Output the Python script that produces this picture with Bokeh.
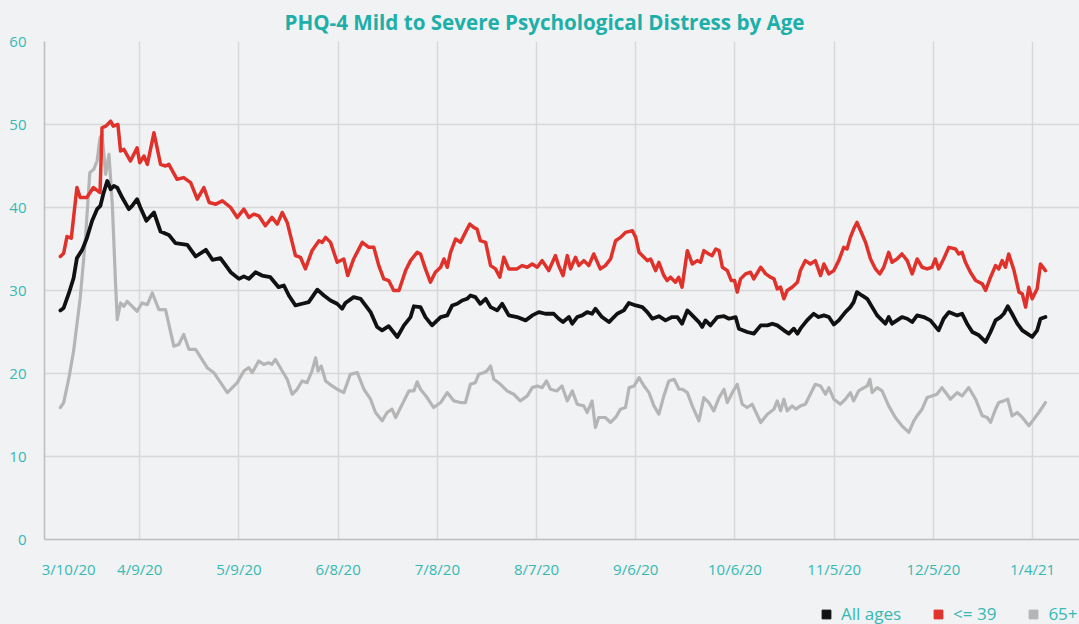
from bokeh.plotting import figure
from bokeh.layouts import column
from bokeh.models import (ColumnDataSource, FixedTicker, Range1d, Legend, LegendItem)
from bokeh.embed import file_html
from bokeh.resources import INLINE

# ---------------- data (day offsets from 3/10/20, percent) ----------------
all_days = [6, 7, 8.6, 10, 11, 12.6, 14, 15.6, 17.1, 18.1, 19.1, 20.2, 21.2, 22.2, 23.2, 24.7, 26.7, 27.7,
            29.2, 30.2, 32, 34.3, 36.3, 38.8, 40.8, 44.4, 46.9, 50, 52, 54.4,
            57.5, 60, 61.5, 63, 65, 67, 69.5, 72, 73.6, 75.1, 77.1, 79.1, 81.1, 83.7, 85.7, 87.7, 89.7,
            91.2, 92.2, 94.7, 96.8, 99.8, 101.8, 103.3, 105.3, 107.9, 109.9, 111.9, 112.9,
            114.9, 116.4, 118.4, 121, 123, 124.5, 126, 127.5, 129, 130, 131.5, 133, 134.6, 136.1, 138.1,
            139.6, 141.6, 144.1, 146.7, 148.7, 150.7, 152.7, 155.2, 156.7, 158, 159.8, 160.8, 162.3,
            163.8, 165.3, 166.8, 167.8, 169.8, 171.9,
            174.4, 176.4, 177.9, 180, 182, 183.5, 185, 187, 189, 191, 192.6, 194, 195.6, 197.1, 199.1,
            200.1, 201.1, 202.6, 204.7, 206.7, 208.2, 210.2, 211.2, 213.7, 215.7, 217.8, 219.8, 221.3,
            222.8, 224.8, 226.3, 227.8, 228.9,
            229.8, 231.8, 233.8, 235.3, 236.9, 238.4, 239.9, 241.4, 243.4, 244.9, 245.9, 246.9, 248.4,
            250, 251.5, 253, 254.5, 255.5, 256.5, 257.5, 259, 260.5, 262.1, 263.6, 265.1, 267.1, 269.1,
            271.6, 273.1, 274.7,
            277.2, 278.7, 280.2, 281.8, 283.8, 285.8, 287.3, 288.8, 290.3, 291.3, 292.5, 293.8, 295.4,
            296.9, 298.4, 299.9, 301.4, 302.4, 303.9]
all_vals = [27.6, 27.9, 29.7, 31.5, 33.9, 34.9, 36.3, 38.4, 39.8, 40.2, 41.8, 43.2, 42.2, 42.6, 42.4, 41.2, 39.8, 40.2,
            41.0, 40.0, 38.4, 39.4, 37.1, 36.7, 35.7, 35.5, 34.1, 34.9, 33.7, 33.9,
            32.2, 31.4, 31.7, 31.4, 32.2, 31.8, 31.6, 30.4, 30.6, 29.4, 28.2, 28.4, 28.6, 30.1, 29.4, 28.8, 28.4,
            27.8, 28.5, 29.2, 29.0, 27.4, 25.6, 25.2, 25.7, 24.4, 25.8, 26.8, 28.1,
            28.0, 26.8, 25.8, 26.8, 27.0, 28.2, 28.4, 28.8, 29.0, 29.4, 29.2, 28.4, 29.0, 28.0, 27.6,
            28.4, 27.0, 26.8, 26.4, 27.0, 27.4, 27.2, 27.2, 26.6, 26.2, 26.8, 26.0, 26.8,
            27.0, 27.4, 27.2, 27.8, 26.8, 26.2,
            27.2, 27.6, 28.5, 28.2, 28.0, 27.4, 26.6, 26.9, 26.4, 26.8, 26.8, 26.0, 27.6, 27.0, 26.2,
            25.6, 26.4, 25.8, 26.8, 26.9, 26.6, 26.8, 25.4, 25.0, 24.8, 25.8, 25.8, 26.0,
            25.8, 25.2, 24.8, 25.4, 24.8,
            25.4, 26.4, 27.2, 26.8, 27.0, 26.8, 25.9, 26.4, 27.4, 28.0, 28.6, 29.8, 29.4,
            29.0, 28.0, 27.0, 26.4, 26.0, 26.8, 26.0, 26.4, 26.8, 26.6, 26.2, 27.0, 26.8, 26.4,
            25.2, 26.6, 27.4,
            27.0, 27.2, 26.0, 25.0, 24.6, 23.8, 25.0, 26.4, 26.8, 27.2, 28.1, 27.2, 26.0,
            25.2, 24.8, 24.4, 25.2, 26.6, 26.8]

young_days = [6, 7, 8, 9.3, 11, 12, 14, 16, 18, 18.6, 19.7, 21.2, 22, 23.4, 24.2, 25.2, 27.2, 29.2, 30,
              31.3, 32.3, 34.3, 36.3, 37.8, 38.8, 41.3, 43.3, 45.4, 47.4, 49.4, 51, 53, 55,
              57.5, 59.5, 61.5, 63, 64.5, 66, 68, 70, 71.6, 73.1, 74.6, 77.1, 78.6, 80.1, 82.1, 84.2,
              85.2, 86.2, 87.7, 89.7, 91.7, 92.9, 94.7, 97.3, 99.3, 100.8, 102.3, 103.8, 105.3, 106.8,
              108.4, 110.4, 111.9, 113.9,
              114.9, 116.4, 117.9, 119.4, 121, 122, 123, 124, 125.5, 127, 128.5, 129.8, 131, 132, 133,
              134.6, 136.1, 137.6, 138.9, 140.1, 141.6, 144.1, 145.6, 147.2, 148.7, 150.2, 151.7, 153.7,
              155.7, 156.7, 158, 159.3, 160.3, 161.8, 162.8, 164.3, 165.8, 167.3, 169.3, 170.8,
              172.4, 173.9, 175.4, 176.9, 179, 180, 181, 182.5, 183.5, 184.5, 186, 187, 188.5, 189.5,
              190.5, 192, 193, 194, 195.6, 197.1, 198.6, 199.6, 200.6, 202.1, 203.1, 204.2, 205.2, 206.2,
              207.7, 208.9, 209.9, 210.7, 211.7, 213.2, 214.7, 215.7, 217.8, 219.3, 220.8, 221.8, 222.8,
              223.8, 224.8, 225.8, 227.3, 228.9,
              229.8, 231.3, 232.8, 234.3, 235.9, 236.9, 238.4, 239.9, 241.4, 242.9, 243.9, 244.9, 245.9,
              246.9, 248, 249.5, 251, 252.5, 253.8, 255, 256.5, 257.5, 259, 260.5, 262.1, 263.6, 265.1,
              266.6, 268.1, 269.6, 270.6, 271.6, 273.1, 274.7,
              276.7, 277.7, 278.7, 279.7, 281.2, 282.8, 284.8, 285.8, 287.3, 288.8, 289.8, 290.8, 291.8,
              292.8, 294.4, 295.9, 296.9, 297.9, 298.9, 299.9, 301.4, 302.4, 303.9]
young_vals = [34.1, 34.5, 36.5, 36.3, 42.4, 41.2, 41.2, 42.4, 41.8, 49.6, 49.8, 50.4, 49.8, 50.0, 46.8, 47.0, 45.6, 47.2, 45.4,
              46.2, 45.2, 49.0, 45.2, 45.0, 45.2, 43.4, 43.6, 43.0, 41.0, 42.4, 40.6, 40.4, 40.8,
              40.0, 38.8, 39.8, 38.8, 39.2, 39.0, 37.8, 38.8, 38.0, 39.4, 38.2, 34.2, 34.0, 32.6, 34.8, 36.0,
              35.8, 36.4, 35.8, 33.4, 33.8, 31.8, 33.8, 35.8, 35.2, 35.2, 33.0, 31.4, 31.2, 30.0,
              30.0, 32.4, 33.6, 34.6,
              34.4, 32.6, 31.0, 32.2, 32.8, 33.8, 32.8, 34.6, 36.2, 35.8, 37.0, 38.0, 37.6, 37.4, 36.0,
              35.8, 33.0, 32.6, 31.6, 34.0, 32.6, 32.6, 33.0, 32.8, 33.2, 32.8, 33.6, 32.4,
              34.2, 33.0, 31.8, 34.2, 32.6, 34.0, 33.0, 33.6, 33.0, 34.4, 32.6, 33.0,
              33.8, 36.0, 36.4, 37.0, 37.2, 36.4, 34.6, 34.0, 33.6, 33.8, 32.4, 33.4, 31.8, 31.2,
              31.6, 31.0, 31.6, 30.4, 34.8, 33.2, 33.6, 33.4, 34.8, 34.4, 34.2, 35.0, 34.8, 32.8,
              32.4, 31.2, 31.2, 29.8, 31.4, 32.0, 32.2, 31.4, 32.8, 32.0, 31.6, 31.4, 30.2,
              30.4, 29.0, 30.0, 30.4, 31.0,
              32.4, 33.6, 33.2, 33.6, 31.8, 33.2, 32.0, 32.4, 33.6, 35.2, 35.0, 36.4, 37.4,
              38.2, 37.2, 35.8, 33.8, 32.6, 32.0, 32.8, 34.6, 33.4, 33.8, 34.4, 33.6, 32.0, 33.8,
              32.8, 32.6, 32.8, 33.8, 32.6, 33.8, 35.2,
              35.0, 34.4, 34.6, 33.4, 32.2, 31.2, 30.8, 30.0, 31.6, 33.0, 32.6, 33.6, 32.8,
              34.4, 32.4, 29.8, 29.6, 28.0, 30.4, 29.0, 30.2, 33.2, 32.4]

old_days = [6, 7, 8.6, 10, 12, 13.6, 14.9, 16.1, 17.1, 18, 18.6, 19.7, 20.7, 21.7, 22.7, 23.2, 24.2, 25.2,
            26.2, 29.2, 30.7, 32.3, 33.8, 35.8, 37.8, 40.3, 41.8, 43.3, 44.9, 46.9, 50.4, 52.4, 56.5,
            59.5, 61.5, 63, 64, 66, 67.5, 69, 70, 71, 73.1, 74.6, 76.1, 77.6, 79.1, 80.6, 82.1, 83.2,
            83.9, 84.9, 86.2, 88.2, 89.7, 91.7, 93.7, 95.8, 97.8, 99.8, 101.3, 103.3, 104.8, 106.3,
            107.4, 109.9, 111.4, 112.9, 113.9,
            114.9, 116.9, 118.9, 121, 123, 125, 127, 128.5, 130, 131.5, 132.5, 134, 135, 136.1, 137.1,
            139.1, 141.1, 143.1, 145.1, 147.2, 148.7, 150.2, 151.7, 153, 154.2, 156.2, 157.7, 159.3,
            160.8, 162.3, 164.3, 165.3, 166.8, 167.8, 168.8, 170.8,
            172.4, 173.9, 175.4, 176.9, 178, 179.5, 181, 182.5, 184, 185.5, 187, 188.5, 190, 191.6,
            193.1, 194.1, 195.6, 197.1, 199.1, 200.6, 202.1, 203.6, 205.2, 206.7, 207.7, 209.2, 210.7,
            212.2, 213.7, 215.2, 217.8, 219.8, 221.8, 222.8, 223.8, 224.8, 225.8, 227.3, 228.4,
            229.8, 231.3, 232.8, 234.3, 235.9, 237.4, 238.4, 239.9, 241.9, 243.4, 244.9, 245.9, 247.4,
            249, 250, 250.8, 251.5, 253, 254.5, 256.5, 258.5, 260.5, 262.6, 264.1, 265.1, 266.6, 268.1,
            269.6, 271.1, 272.6, 274.1,
            275.2, 277.2, 278.7, 280.7, 282.8, 284.8, 286.3, 287.3, 288.8, 289.8, 291.3, 292.5, 293.8,
            295.4, 296.9, 298.9, 300.4, 301.9, 303.9]
old_vals = [15.9, 16.5, 19.5, 22.7, 29.1, 36.3, 44.2, 44.6, 45.6, 48.4, 48.8, 44.0, 46.4, 40.4, 30.7, 26.5, 28.5, 28.1,
            28.7, 27.5, 28.5, 28.3, 29.7, 27.7, 27.7, 23.3, 23.5, 24.7, 22.9, 22.9, 20.7, 20.1, 17.7,
            18.9, 20.3, 20.7, 20.1, 21.5, 21.1, 21.3, 21.1, 21.7, 20.3, 19.3, 17.5, 18.1, 19.1, 18.9, 20.3, 21.9,
            20.3, 20.9, 19.1, 18.5, 18.1, 17.7, 19.9, 20.1, 18.1, 16.9, 15.3, 14.3, 15.3, 15.7,
            14.7, 16.7, 17.9, 17.9, 19.0,
            18.1, 17.1, 15.9, 16.5, 17.7, 16.7, 16.5, 16.5, 18.7, 18.9, 19.9, 20.1, 20.3, 20.9, 19.3,
            18.7, 17.9, 17.5, 16.7, 17.3, 18.3, 18.5, 18.3, 19.1, 18.1, 17.9, 18.5, 16.7,
            17.9, 16.3, 16.1, 15.3, 16.7, 13.5, 14.7, 14.7,
            14.1, 14.7, 15.7, 15.9, 18.3, 18.5, 19.5, 18.5, 17.7, 16.1, 15.1, 17.3, 19.1, 19.3,
            18.1, 18.1, 17.7, 16.1, 14.3, 17.1, 16.5, 15.5, 17.1, 18.1, 16.5, 17.7, 18.7,
            16.3, 15.9, 16.3, 14.1, 15.1, 15.7, 16.7, 15.5, 16.9, 15.5, 16.1, 15.7,
            16.1, 16.3, 17.5, 18.7, 18.5, 17.5, 18.3, 16.9, 16.3, 16.9, 17.7, 16.7, 17.9,
            18.3, 18.5, 19.3, 17.7, 18.3, 17.9, 16.1, 14.7, 13.7, 12.9, 14.3, 14.9, 15.7, 17.1,
            17.3, 17.5, 18.3, 17.5,
            16.9, 17.7, 17.3, 18.3, 16.9, 14.9, 14.7, 14.1, 15.7, 16.5, 16.7, 16.9, 14.9,
            15.3, 14.7, 13.7, 14.5, 15.3, 16.5]

series_names = ["All ages", "<= 39", "65+"]
series_colors = ["#111111", "#E0312B", "#B5B5B5"]

tick_days = [0, 30, 60, 90, 120, 150, 180, 210, 240, 270, 300]
tick_labels = ["3/10/20", "4/9/20", "5/9/20", "6/8/20", "7/8/20", "8/7/20",
               "9/6/20", "10/6/20", "11/5/20", "12/5/20", "1/4/21"]
y_ticks = [0, 10, 20, 30, 40, 50, 60]

# ---------------- styling ----------------
BG = "#F1F2F4"
TEAL = "#1DAFA9"
TEAL_LIGHT = "#35B9B3"
GRID = "#D8D8D8"
FONT = "Open Sans"

x_start, x_end = 1.2, 314.2

p = figure(width=1079, height=600, output_backend="svg", toolbar_location=None,
           x_range=Range1d(x_start, x_end), y_range=Range1d(0, 60),
           min_border_left=44, min_border_right=0, min_border_top=41, min_border_bottom=61,
           background_fill_color=BG, border_fill_color=BG, outline_line_color=None)

p.title.text = "PHQ-4 Mild to Severe Psychological Distress by Age"
p.title.align = "left"
p.title.offset = 240
p.title.text_color = TEAL
p.title.text_font = FONT
p.title.text_font_style = "bold"
p.title.text_font_size = "20.6px"
p.title.standoff = 11

# first date label sits just inside the plot's left edge, as in the source chart
first_label_pos = x_start + 7.3
axis_ticks = [first_label_pos] + tick_days[1:]
overrides = {first_label_pos: tick_labels[0]}
for d, lab in zip(tick_days[1:], tick_labels[1:]):
    overrides[d] = lab

p.xaxis.ticker = FixedTicker(ticks=axis_ticks)
p.xaxis.major_label_overrides = overrides
p.xgrid.ticker = FixedTicker(ticks=tick_days)
p.yaxis.ticker = FixedTicker(ticks=y_ticks)
p.ygrid.ticker = FixedTicker(ticks=y_ticks)

for ax in (p.xaxis[0], p.yaxis[0]):
    ax.axis_line_color = "#BDBDBD"
    ax.axis_line_width = 1.5
    ax.major_tick_line_color = None
    ax.minor_tick_line_color = None
    ax.major_tick_out = 0
    ax.major_tick_in = 0
    ax.major_label_text_color = TEAL_LIGHT
    ax.major_label_text_font = FONT
    ax.major_label_text_font_size = "15px"
p.yaxis.major_label_standoff = 18
p.xaxis.major_label_standoff = 19

for g in (p.xgrid[0], p.ygrid[0]):
    g.grid_line_color = GRID
    g.grid_line_width = 1.5

sources = [(all_days, all_vals), (young_days, young_vals), (old_days, old_vals)]
widths = [3.8, 3.5, 3.2]
# draw order: gray, red, black on top
for idx in (2, 1, 0):
    d, v = sources[idx]
    src = ColumnDataSource(dict(x=d, y=v))
    p.line("x", "y", source=src, line_color=series_colors[idx], line_width=widths[idx],
           line_join="round", line_cap="round")

# ---------------- legend strip under the chart ----------------
lg = figure(width=1079, height=24, output_backend="svg", toolbar_location=None,
            x_range=Range1d(0, 1), y_range=Range1d(0, 1),
            min_border_left=44, min_border_right=0, min_border_top=0, min_border_bottom=0,
            background_fill_color=BG, border_fill_color=BG, outline_line_color=None,
            x_axis_type=None, y_axis_type=None)
lg.grid.visible = False

nan = float("nan")
items = []
for name, col in zip(series_names, series_colors):
    r = lg.scatter(x=[nan], y=[nan], marker="square", fill_color=col, line_color=col, size=9)
    items.append(LegendItem(label=name, renderers=[r]))

legend = Legend(items=items, orientation="horizontal", location=(771, -1),
                glyph_width=22, glyph_height=22, label_standoff=4, spacing=26,
                padding=0, margin=0, border_line_color=None, background_fill_alpha=0,
                label_text_color=TEAL_LIGHT, label_text_font=FONT, label_text_font_size="17px")
lg.add_layout(legend)

page = column(p, lg, spacing=0)

open("out.html", "w").write(file_html(page, INLINE).replace(
    "<head>", "<head><style>html,body{background:#F1F2F4;}</style>", 1))
